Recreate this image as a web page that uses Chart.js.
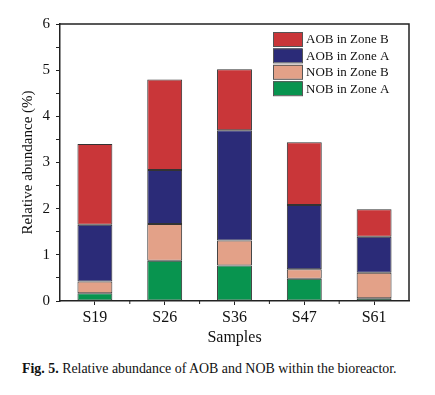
<!DOCTYPE html>
<html lang="en">
<head>
    <meta charset="UTF-8">
    <title>Relative abundance of AOB and NOB</title>
    <script src="https://cdn.jsdelivr.net/npm/chart.js"></script>
    <style>
        body {
            margin: 0;
            background: #ffffff;
            width: 435px;
            height: 395px;
            position: relative;
            overflow: hidden;
        }
        #wrap {
            position: absolute;
            left: 0;
            top: 0;
            width: 435px;
            height: 350px;
        }
        #caption {
            position: absolute;
            left: 22px;
            top: 361px;
            font-family: 'Liberation Serif', serif;
            font-size: 13.9px;
            color: #111;
            white-space: nowrap;
        }
    </style>
</head>
<body>

<div id="wrap"><canvas id="chart" width="435" height="350"></canvas></div>
<div id="caption"><b>Fig. 5.</b> Relative abundance of AOB and NOB within the bioreactor.</div>

<script>
    const samples = ['S19', 'S26', 'S36', 'S47', 'S61'];
    const nobZoneA = [0.17, 0.87, 0.77, 0.48, 0.06];
    const nobZoneB = [0.25, 0.80, 0.54, 0.21, 0.55];
    const aobZoneA = [1.23, 1.17, 2.39, 1.39, 0.78];
    const aobZoneB = [1.75, 1.96, 1.32, 1.36, 0.60];

    const serif = "'Liberation Serif', 'Times New Roman', serif";
    const axisColor = '#222';

    // frame on top/right + minor ticks between categories
    const framePlugin = {
        id: 'frame',
        afterDatasetsDraw(chart) {
            const { ctx, chartArea: a } = chart;
            const xs = chart.scales.x;
            ctx.save();
            ctx.strokeStyle = axisColor;
            ctx.lineWidth = 1.5;
            ctx.beginPath();
            ctx.moveTo(a.left, a.top);
            ctx.lineTo(a.right, a.top);
            ctx.lineTo(a.right, a.bottom);
            ctx.stroke();
            ctx.lineWidth = 1;
            for (let i = 0; i < samples.length - 1; i++) {
                const x = (xs.getPixelForValue(i) + xs.getPixelForValue(i + 1)) / 2;
                ctx.beginPath();
                ctx.moveTo(x, a.bottom);
                ctx.lineTo(x, a.bottom + 3);
                ctx.stroke();
            }
            ctx.restore();
        }
    };

    // legend drawn inside the plot area, top right
    const legendPlugin = {
        id: 'insideLegend',
        afterDraw(chart) {
            const { ctx, chartArea: a } = chart;
            const sets = chart.data.datasets.slice().reverse();
            const x0 = a.right - 136;
            const y0 = a.top + 15;
            ctx.save();
            ctx.font = '13px ' + serif;
            ctx.textBaseline = 'middle';
            ctx.textAlign = 'left';
            sets.forEach((ds, i) => {
                const y = y0 + i * 16.4;
                ctx.fillStyle = ds.backgroundColor;
                ctx.fillRect(x0, y - 7, 29, 14);
                ctx.strokeStyle = '#555';
                ctx.lineWidth = 1;
                ctx.strokeRect(x0 + 0.5, y - 6.5, 29, 14);
                ctx.fillStyle = '#111';
                ctx.fillText(ds.label, x0 + 33, y + 1);
            });
            ctx.restore();
        }
    };

    const barStyle = {
        borderColor: '#333',
        borderWidth: 1,
        borderSkipped: false,
        barPercentage: 0.5,
        categoryPercentage: 1.0
    };

    new Chart(document.getElementById('chart'), {
        type: 'bar',
        data: {
            labels: samples,
            datasets: [
                { label: 'NOB in Zone A', data: nobZoneA, backgroundColor: '#08944f', ...barStyle },
                { label: 'NOB in Zone B', data: nobZoneB, backgroundColor: '#e3a188', ...barStyle },
                { label: 'AOB in Zone A', data: aobZoneA, backgroundColor: '#2b2b78', ...barStyle },
                { label: 'AOB in Zone B', data: aobZoneB, backgroundColor: '#c93639', ...barStyle }
            ]
        },
        options: {
            responsive: false,
            animation: false,
            layout: { padding: { left: 0, top: 24, right: 26, bottom: 0 } },
            plugins: {
                legend: { display: false },
                tooltip: { enabled: false }
            },
            scales: {
                x: {
                    stacked: true,
                    afterFit: s => { s.height = 49; },
                    grid: {
                        offset: false,
                        drawOnChartArea: false,
                        drawTicks: true,
                        tickLength: 4,
                        color: axisColor
                    },
                    border: { display: true, color: axisColor, width: 1.5 },
                    ticks: {
                        color: '#111',
                        padding: 3,
                        maxRotation: 0,
                        font: { family: serif, size: 16 }
                    },
                    title: {
                        display: true,
                        text: 'Samples',
                        color: '#111',
                        padding: { top: 0, bottom: 3 },
                        font: { family: serif, size: 16 }
                    }
                },
                y: {
                    stacked: true,
                    min: 0,
                    max: 6,
                    afterFit: s => { s.width = 60; },
                    grid: {
                        drawOnChartArea: false,
                        drawTicks: true,
                        tickLength: 4,
                        color: axisColor
                    },
                    border: { display: true, color: axisColor, width: 1.5 },
                    ticks: {
                        stepSize: 0.5,
                        autoSkip: false,
                        padding: 6,
                        color: '#111',
                        font: { family: serif, size: 15 },
                        callback: v => Number.isInteger(v) ? v : ''
                    },
                    title: {
                        display: true,
                        text: 'Relative abundance (%)',
                        color: '#111',
                        padding: { top: 19, bottom: 0 },
                        font: { family: serif, size: 15 }
                    }
                }
            }
        },
        plugins: [framePlugin, legendPlugin]
    });
</script>

</body>
</html>
